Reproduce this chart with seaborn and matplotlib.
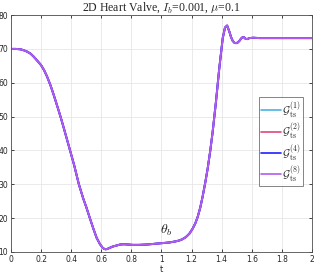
import numpy as np
import pandas as pd
import matplotlib
matplotlib.use("Agg")
import matplotlib.pyplot as plt
import seaborn as sns

t = [0.000, 0.030, 0.062, 0.085, 0.107, 0.130, 0.151, 0.175, 0.200, 0.220,
     0.240, 0.262, 0.284, 0.306, 0.329, 0.351, 0.373, 0.395, 0.420, 0.451,
     0.480, 0.500, 0.524, 0.548, 0.569, 0.590, 0.608, 0.620, 0.629, 0.640,
     0.655, 0.675, 0.700, 0.725, 0.750, 0.780, 0.810, 0.850, 0.900, 0.950,
     1.000, 1.050, 1.090, 1.118, 1.140, 1.162, 1.185, 1.207, 1.225, 1.240,
     1.257, 1.273, 1.290, 1.307, 1.324, 1.340, 1.362, 1.384, 1.407, 1.422,
     1.436, 1.451, 1.462, 1.473, 1.485, 1.496, 1.507, 1.518, 1.530, 1.540,
     1.550, 1.558, 1.570, 1.584, 1.610, 1.651, 1.750, 1.850, 2.000]
theta = [70.0, 70.0, 69.9, 69.6, 69.2, 68.6, 67.7, 66.5, 65.2, 63.7,
         61.8, 59.3, 56.4, 53.3, 50.0, 46.6, 43.1, 39.6, 35.6, 30.0,
         25.8, 23.3, 20.0, 16.8, 14.2, 12.4, 11.3, 10.9, 10.8, 10.9,
         11.2, 11.6, 11.9, 12.2, 12.3, 12.2, 12.1, 12.1, 12.2, 12.4,
         12.6, 12.8, 13.1, 13.4, 13.8, 14.4, 15.4, 16.9, 18.5, 20.3,
         23.0, 26.3, 30.3, 34.7, 39.9, 45.5, 54.4, 64.3, 73.2, 76.3,
         76.9, 75.1, 73.5, 72.4, 71.8, 71.7, 71.9, 72.4, 73.1, 73.5,
         73.4, 73.0, 72.9, 73.2, 73.3, 73.2, 73.2, 73.2, 73.2]
series = [r"$\mathcal{G}_{\rm ts}^{(1)}$", r"$\mathcal{G}_{\rm ts}^{(2)}$",
          r"$\mathcal{G}_{\rm ts}^{(4)}$", r"$\mathcal{G}_{\rm ts}^{(8)}$"]
colors = ["#4db3e6", "#e0457b", "#1f1fff", "#b05cf0"]
xticks = [0, 0.2, 0.4, 0.6, 0.8, 1.0, 1.2, 1.4, 1.6, 1.8, 2.0]
xticklabels = ["0", "0.2", "0.4", "0.6", "0.8", "1", "1.2", "1.4", "1.6", "1.8", "2"]
yticks = [10, 20, 30, 40, 50, 60, 70, 80]

sns.set_theme(style="ticks")
plt.rcParams["mathtext.fontset"] = "cm"

df = pd.concat([pd.DataFrame({"t": t, "theta": theta, "s": s}) for s in series])

fig = plt.figure(figsize=(3.14, 2.74), dpi=100)
ax = fig.add_axes([0.035, 0.0803, 0.9586, 0.8647])
sns.lineplot(data=df, x="t", y="theta", hue="s", palette=dict(zip(series, colors)),
             linewidth=1.4, ax=ax, legend=False, estimator=None, sort=False)
for ln in ax.lines:
    ln.set_solid_joinstyle("round")

ax.set_xlim(0, 2)
ax.set_ylim(10, 80)
ax.set_xticks(xticks)
ax.set_xticklabels(xticklabels)
ax.set_yticks(yticks)
ax.tick_params(direction="in", length=2.5, width=0.6, labelsize=5.5, pad=2,
               colors="#262626", top=True, right=True)
ax.grid(True, color="#e6e6e6", linewidth=0.6)
ax.set_axisbelow(True)
for sp in ax.spines.values():
    sp.set_visible(True)
    sp.set_color("#4d4d4d")
    sp.set_linewidth(0.6)
ax.set_xlabel("t", fontsize=6, labelpad=1, color="#262626")
ax.set_ylabel("")
ax.set_title(r"2D Heart Valve, $I_b$=0.001, $\mu$=0.1", fontsize=8.5,
             family="Liberation Serif", pad=3)
ax.text(1.03, 14.0, r"$\theta_b$", fontsize=10, ha="center", va="bottom")

handles = [plt.Line2D([], [], color=c, linewidth=1.2) for c in colors]
leg = ax.legend(handles, series, loc="upper left", bbox_to_anchor=(0.823, 0.655),
                fontsize=8, frameon=True, fancybox=False, handlelength=1.8,
                handletextpad=0.1, borderpad=0.2, labelspacing=0.05, borderaxespad=0)
leg.get_frame().set_edgecolor("#4d4d4d")
leg.get_frame().set_linewidth(0.6)

fig.savefig("out.png", dpi=100)
